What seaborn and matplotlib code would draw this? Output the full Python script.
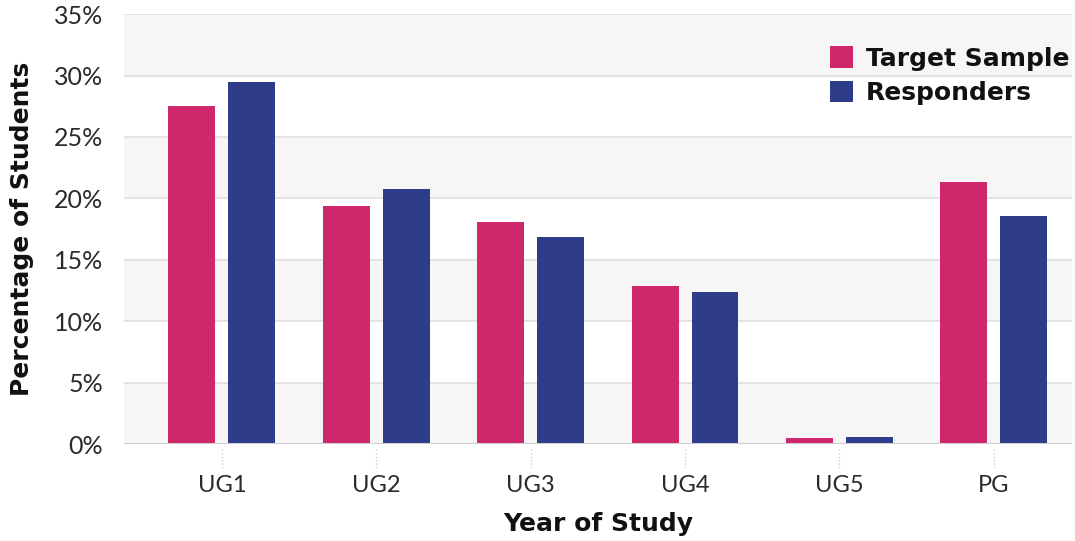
import matplotlib
matplotlib.use("Agg")
import matplotlib.pyplot as plt
import seaborn as sns
import pandas as pd
import numpy as np

categories = ["UG1", "UG2", "UG3", "UG4", "UG5", "PG"]
target_sample = [27.5, 19.4, 18.1, 12.9, 0.5, 21.3]
responders = [29.5, 20.75, 16.85, 12.4, 0.6, 18.55]
series_names = ["Target Sample", "Responders"]
y_ticks = [0, 5, 10, 15, 20, 25, 30, 35]

sns.set_theme(style="white")
plt.rcParams['font.family'] = ['Lato', 'DejaVu Sans']

df = pd.DataFrame({
    "Year": categories * 2,
    "Value": target_sample + responders,
    "Series": [series_names[0]] * len(categories) + [series_names[1]] * len(categories),
})

fig = plt.figure(figsize=(10.75, 5.41), dpi=100)
ax = fig.add_axes([0.1153, 0.179, 0.997 - 0.1153, 0.974 - 0.179])

# alternating bands
for i in range(0, 35, 10):
    ax.axhspan(i, i + 5, color="#f6f6f6", zorder=0, lw=0)
for t in y_ticks[1:]:
    ax.axhline(t, color="#e2e2e2", lw=1.3, zorder=0.5)

palette = {"Target Sample": "#cf276c", "Responders": "#2f3c8a"}
sns.barplot(data=df, x="Year", y="Value", hue="Series", palette=palette,
            width=0.777, gap=0.217, saturation=1, linewidth=0, ax=ax,
            zorder=2, legend=True)

ax.axhline(0, color="#cfcfcf", lw=2.2, zorder=3)
ax.set_ylim(0, 35)
ax.set_xlim(-0.634, 5.505)
ax.set_yticks(y_ticks)
ax.set_yticklabels([f"{t}%" for t in y_ticks], fontsize=18, color="#2a2a2a",
                   fontweight="normal")
ax.set_xticks(range(len(categories)))
ax.set_xticklabels(categories, fontsize=17, color="#2a2a2a", fontweight="normal")
ax.tick_params(axis="x", length=0, pad=22)
ax.tick_params(axis="y", length=0, pad=15)
for x in range(len(categories)):
    ax.plot([x, x], [-0.4, -2.0], ls=(0, (1, 1.5)), color="#d0d0d0", lw=1,
            clip_on=False, zorder=3)

for s in ax.spines.values():
    s.set_visible(False)

heavy = ["DejaVu Sans"]
ax.set_xlabel("Year of Study", fontsize=18, fontweight="bold", family=heavy,
              color="#111111", labelpad=12)
ax.set_ylabel("Percentage of Students", fontsize=18, fontweight="bold", family=heavy,
              color="#111111")
ax.yaxis.set_label_coords(-0.095, 0.5)

leg = ax.legend(loc="upper right", bbox_to_anchor=(1.008, 0.948), frameon=False,
                fontsize=18, handlelength=0.92, handleheight=0.92, handletextpad=0.5,
                labelspacing=0.42, borderaxespad=0)
for txt in leg.get_texts():
    txt.set_fontweight("bold")
    txt.set_family(heavy)
    txt.set_color("#111111")

fig.savefig("out.png", dpi=100)
